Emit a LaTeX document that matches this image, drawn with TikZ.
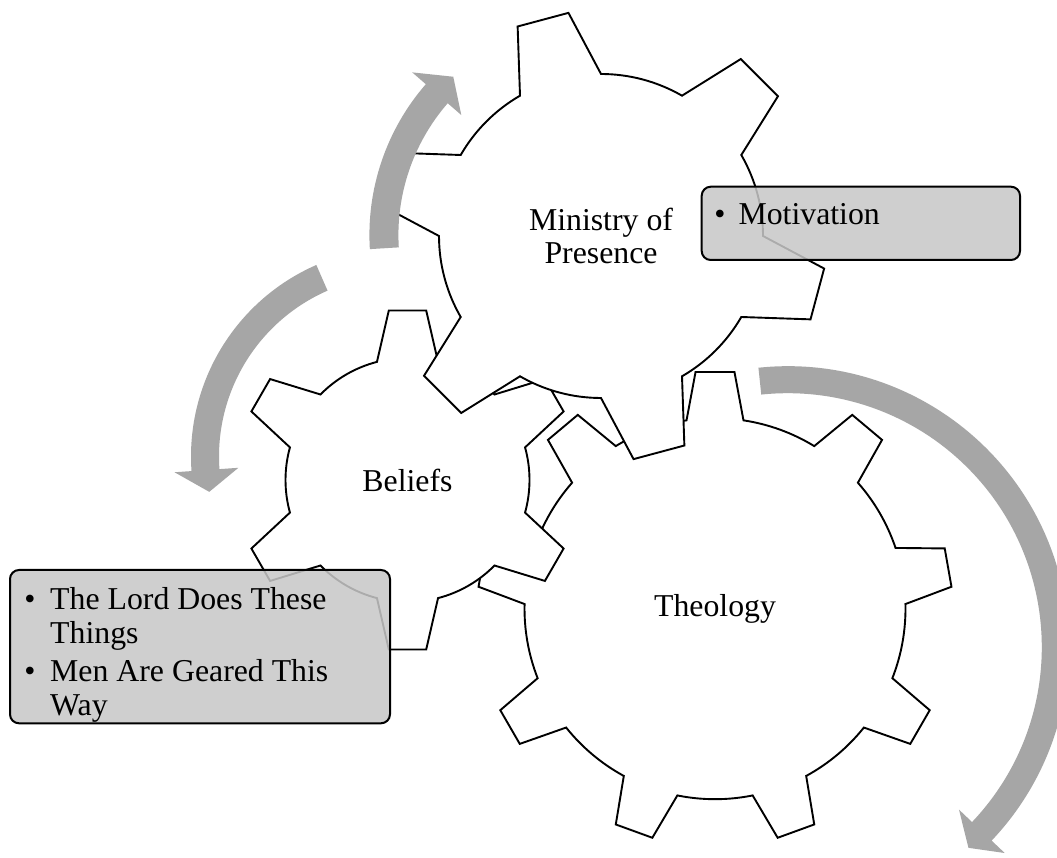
\documentclass[tikz,border=0pt]{standalone}
\usepackage{fontspec}
\setmainfont{Liberation Serif}
\definecolor{arrowgray}{RGB}{166,166,166}
\definecolor{boxgray}{RGB}{200,200,200}
\newcommand{\mygear}[8]{% cx cy rin rout n start tiphalf basehalf
  \begin{scope}[shift={(#1,#2)}]
    \pgfmathsetmacro{\gstep}{360/#5}
    \pgfmathtruncatemacro{\glast}{#5-1}
    \draw[gearline] ({#6-#8}:#3)
      \foreach \gi in {0,...,\glast}{
        -- ({#6+\gstep*\gi-#8}:#3) -- ({#6+\gstep*\gi-#7}:#4) -- ({#6+\gstep*\gi+#7}:#4) -- ({#6+\gstep*\gi+#8}:#3)
        arc[start angle={#6+\gstep*\gi+#8}, end angle={#6+\gstep*(\gi+1)-#8}, radius=#3]
      } -- cycle;
  \end{scope}}
\begin{document}
\begin{tikzpicture}[x=1pt,y=1pt,
  gearline/.style={draw=black, fill=white, line width=1.9pt},
  garrow/.style={fill=arrowgray},
  tbox/.style={draw=black, line width=2pt, rounded corners=9pt, fill=boxgray, fill opacity=0.86},
  lbl/.style={font=\fontsize{31.8}{33.5}\selectfont, inner sep=0pt, align=center},
  btxt/.style={font=\fontsize{31.8}{33.5}\selectfont, inner sep=0pt}]
\useasboundingbox (0,0) rectangle (1057,857);
\clip (0,0) rectangle (1057,857);
\fill[white] (0,0) rectangle (1057,857);
% gears (bottom to top)
\mygear{715}{248.3}{190.5}{237.5}{9}{90}{4.7}{8.6}
\mygear{407.5}{377}{122}{170.5}{6}{90}{6.3}{14.5}
\mygear{601}{621}{162}{225.5}{6}{105}{6.7}{15}
% labels
\node[lbl] (theology) at (715,248.3) {Theology};
\node[lbl] (beliefs) at (407.5,377) {Beliefs};
\node[lbl] (ministry) at (601,621) {Ministry of\\Presence};
% arrows
\begin{scope}[shift={(599.4,621.9)}]
\fill[garrow] (183.5:230) arc[start angle=183.5,end angle=139,radius=230] -- (139:248) -- (132.7:215.5) -- (139:183) -- (139:201) arc[start angle=139,end angle=183.5,radius=201] -- cycle;
\end{scope}
\begin{scope}[shift={(400,400.5)}]
\fill[garrow] (113.6:209) arc[start angle=113.6,end angle=184,radius=209] -- (184:226) -- (190.5:194) -- (184:162) -- (184:181) arc[start angle=184,end angle=113.6,radius=181] -- cycle;
\end{scope}
\begin{scope}[shift={(787.8,209.8)}]
\fill[garrow] (96:281) arc[start angle=96,end angle=-43.5,radius=281] -- (-43.5:299) -- (-48:270) -- (-43.5:236) -- (-43.5:254) arc[start angle=-43.5,end angle=96,radius=254] -- cycle;
\end{scope}
% text boxes
\draw[tbox] (701.7,597) rectangle (1020,670.3);
\node[btxt, anchor=base] (mbul) at (720,632) {•};
\node[btxt, anchor=base west] (motiv) at (738.3,632) {Motivation};
\draw[tbox] (10,133.7) rectangle (390,287);
\node[btxt, anchor=base] (bul1) at (30,247) {•};
\node[btxt, anchor=base west] (lord1) at (50,247) {The Lord Does These};
\node[btxt, anchor=base west] (lord2) at (50,213.7) {Things};
\node[btxt, anchor=base] (bul2) at (30,175.3) {•};
\node[btxt, anchor=base west] (men1) at (50,175.3) {Men Are Geared This};
\node[btxt, anchor=base west] (men2) at (50,142) {Way};
\end{tikzpicture}
\end{document}
